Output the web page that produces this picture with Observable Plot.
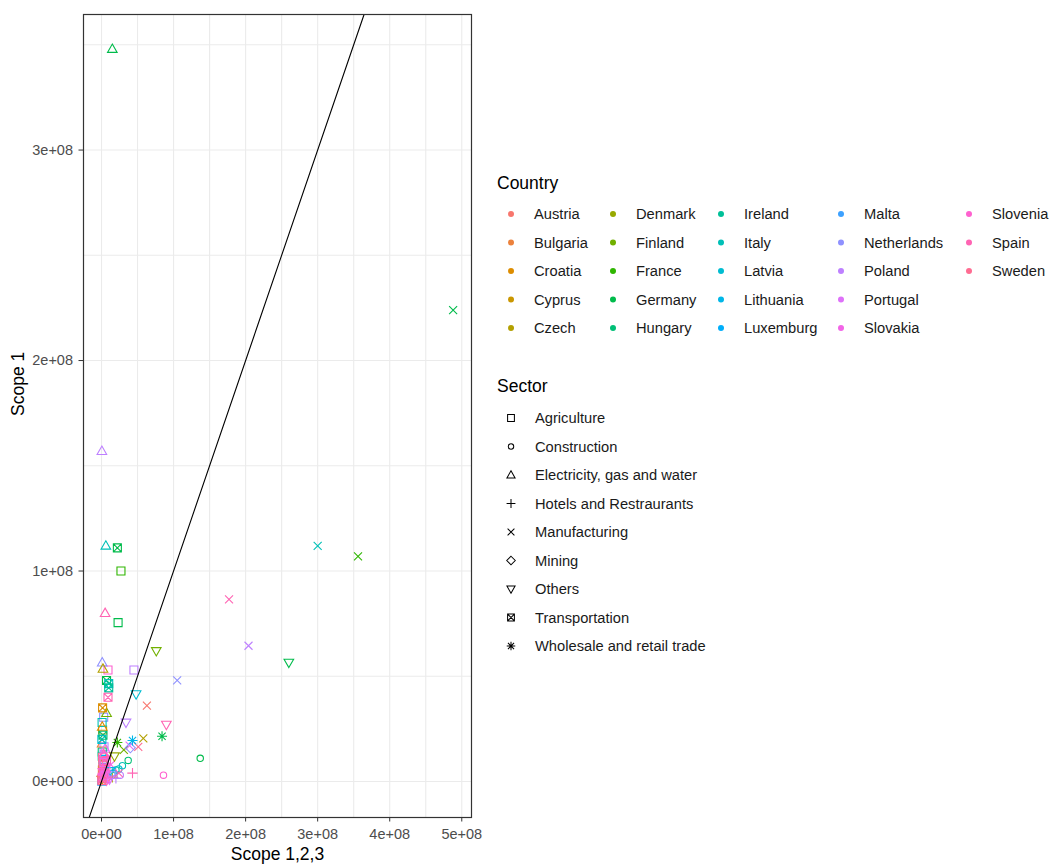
<!DOCTYPE html>
<html>
<head>
<meta charset="utf-8">
<script src="https://cdn.jsdelivr.net/npm/d3@7"></script>
<script src="https://cdn.jsdelivr.net/npm/@observablehq/plot@0.6"></script>
<style>
  body { margin: 0; background: #fff; }
  #wrap { position: relative; width: 1049px; height: 865px; font-family: "Liberation Sans", Arial, sans-serif; }
  #chart { position: absolute; left: 0; top: 0; }
  #legend { position: absolute; left: 0; top: 0; }
</style>
</head>
<body>
<div id="wrap">
  <div id="chart"></div>
  <svg id="legend" width="1049" height="865"></svg>
</div>
<script>
// ---------- data ----------
const countries = ["Austria","Bulgaria","Croatia","Cyprus","Czech","Denmark","Finland","France","Germany","Hungary","Ireland","Italy","Latvia","Lithuania","Luxemburg","Malta","Netherlands","Poland","Portugal","Slovakia","Slovenia","Spain","Sweden"];
const sectors = ["Agriculture","Construction","Electricity, gas and water","Hotels and Restraurants","Manufacturing","Mining","Others","Transportation","Wholesale and retail trade"];

const ptCountry = ["Germany","Germany","Poland","Italy","France","Italy","Germany","France","Spain","Germany",
  "Finland","Spain","Poland","Germany","Netherlands","Poland","Latvia","Austria","Poland","Spain",
  "Germany","Czech","Lithuania","Sweden","Portugal","Germany","Slovenia","Spain","Hungary","Finland",
  "France","Netherlands","Italy","Poland","Spain","Netherlands","Czech","Slovenia","Germany","Italy",
  "Ireland","Spain","Finland","Netherlands","Croatia","Cyprus","Latvia","Poland","Hungary","Ireland",
  "Luxemburg","Slovenia","Spain","Slovakia","Sweden","Spain","Slovenia","Slovakia","Sweden","Spain",
  "Slovenia","Portugal","Malta","Cyprus","Bulgaria","Denmark","Austria","Lithuania","Luxemburg","Netherlands",
  "Ireland","Latvia","Slovakia","Spain","Portugal","Czech","Poland","Slovenia","Sweden","Spain",
  "Italy","Hungary","Croatia","Austria","Denmark","Bulgaria","Portugal","Slovenia","Spain","Slovakia",
  "Sweden","Spain","Slovenia","Portugal"];
const ptSector = ["Electricity, gas and water","Manufacturing","Electricity, gas and water","Manufacturing","Manufacturing","Electricity, gas and water","Transportation","Agriculture","Electricity, gas and water","Agriculture",
  "Others","Manufacturing","Manufacturing","Others","Manufacturing","Agriculture","Others","Manufacturing","Others","Others",
  "Wholesale and retail trade","Manufacturing","Wholesale and retail trade","Manufacturing","Manufacturing","Construction","Construction","Hotels and Restraurants","Construction","Manufacturing",
  "Wholesale and retail trade","Mining","Construction","Construction","Manufacturing","Electricity, gas and water","Electricity, gas and water","Agriculture","Transportation","Transportation",
  "Transportation","Transportation","Electricity, gas and water","Agriculture","Electricity, gas and water","Agriculture","Transportation","Agriculture","Agriculture","Agriculture",
  "Agriculture","Agriculture","Agriculture","Agriculture","Agriculture","Transportation","Transportation","Electricity, gas and water","Transportation","Others",
  "Others","Agriculture","Agriculture","Others","Agriculture","Agriculture","Construction","Others","Construction","Others",
  "Construction","Construction","Manufacturing","Agriculture","Others","Hotels and Restraurants","Hotels and Restraurants","Mining","Agriculture","Electricity, gas and water",
  "Agriculture","Transportation","Transportation","Agriculture","Others","Electricity, gas and water","Electricity, gas and water","Transportation","Agriculture","Transportation",
  "Agriculture","Electricity, gas and water","Others","Agriculture"];
// Scope 1,2,3 (x) and Scope 1 (y)
const ptScope123 = [15e6,488e6,0.5e6,300e6,356e6,6e6,22e6,27e6,5e6,23e6,
  76e6,177e6,204e6,260e6,105e6,45e6,48e6,63e6,34e6,90e6,
  84e6,58e6,43e6,51e6,39e6,137e6,86e6,43e6,37e6,31e6,
  22e6,40e6,29e6,26e6,24e6,1e6,2e6,9e6,7e6,10e6,
  10e6,9e6,7e6,3e6,1e6,1.5e6,0.5e6,3.5e6,1e6,1e6,
  2e6,2e6,3e6,1.5e6,4e6,2.5e6,1e6,3e6,0.5e6,5e6,
  2e6,6e6,0.2e6,0.5e6,1.2e6,2.5e6,8e6,12e6,16e6,14e6,
  20e6,24e6,13e6,7e6,11e6,15e6,20e6,4e6,1.5e6,3e6,
  0.8e6,2e6,1.5e6,4e6,18e6,0.8e6,5e6,6e6,1e6,4.5e6,
  2.5e6,0.5e6,7e6,3.5e6];
const ptScope1 = [348e6,224e6,157e6,112e6,107e6,112e6,111e6,100e6,80e6,75.5e6,
  62e6,86.5e6,64.5e6,56.5e6,48e6,53e6,41.5e6,36e6,28e6,27e6,
  21.5e6,20.5e6,19.5e6,16.5e6,17e6,11e6,3e6,4e6,10e6,15e6,
  18.5e6,16e6,7.5e6,3e6,4e6,56.5e6,53.5e6,53e6,48e6,46.5e6,
  44.5e6,40e6,32.5e6,30.5e6,26e6,24.5e6,20e6,16.5e6,14e6,12e6,
  10.5e6,9e6,7.5e6,6e6,5e6,3.5e6,2e6,1e6,0.5e6,2.5e6,
  4.5e6,1.5e6,0.2e6,0.8e6,5.5e6,8e6,2e6,5e6,4e6,3e6,
  5.5e6,6e6,8e6,10e6,1e6,2e6,1.5e6,12e6,11.5e6,13e6,
  28e6,22e6,35e6,9.5e6,12e6,18e6,15.5e6,6.5e6,1.5e6,3e6,
  8.5e6,4e6,0.5e6,9e6];

// reference line y = x
const ablineSlope = 1, ablineIntercept = 0;
const xTicks = [0, 1e8, 2e8, 3e8, 4e8, 5e8];
const yTicks = [0, 1e8, 2e8, 3e8];
const xDomain = [-0.25e8, 5.135e8];
const yDomain = [-0.171e8, 3.644e8];

// ---------- helpers ----------
const points = ptCountry.map((c, i) => ({country: c, sector: ptSector[i], x: ptScope123[i], y: ptScope1[i]}));

function hclHex(h, c, l) { // R's polarLUV -> sRGB
  const hr = h * Math.PI / 180;
  const U = c * Math.cos(hr), V = c * Math.sin(hr);
  const Y = l > 8 ? 100 * Math.pow((l + 16) / 116, 3) : 100 * l / 903.3;
  const un = 0.1978398, vn = 0.4683363;
  const u = U / (13 * l) + un, v = V / (13 * l) + vn;
  const X = 9 * Y * u / (4 * v);
  const Z = -X / 3 - 5 * Y + 3 * Y / v;
  const x = X / 100, y = Y / 100, z = Z / 100;
  const lin = [
    3.240479 * x - 1.537150 * y - 0.498535 * z,
    -0.969256 * x + 1.875992 * y + 0.041556 * z,
    0.055648 * x - 0.204043 * y + 1.057311 * z];
  const g = t => { t = Math.max(0, Math.min(1, t)); return t <= 0.0031308 ? 12.92 * t : 1.055 * Math.pow(t, 1 / 2.4) - 0.055; };
  return "#" + lin.map(t => Math.round(g(t) * 255).toString(16).padStart(2, "0")).join("");
}
const n = countries.length;
const palette = countries.map((_, i) => hclHex(15 + i * 360 / n, 100, 65));

function sci(v) {
  if (v === 0) return "0e+00";
  const e = Math.floor(Math.log10(Math.abs(v)));
  const m = Math.round(v / Math.pow(10, e));
  return `${m}e${e < 0 ? "-" : "+"}${String(Math.abs(e)).padStart(2, "0")}`;
}

// ggplot-like shapes 0..8
const S = 4;
const shapes = {
  "Agriculture": {draw(c) { c.moveTo(-S, -S); c.lineTo(S, -S); c.lineTo(S, S); c.lineTo(-S, S); c.closePath(); }},
  "Construction": {draw(c) { const r = 3.2; c.moveTo(r, 0); c.arc(0, 0, r, 0, 2 * Math.PI); }},
  "Electricity, gas and water": {draw(c) { c.moveTo(0, -5); c.lineTo(4.8, 3.4); c.lineTo(-4.8, 3.4); c.closePath(); }},
  "Hotels and Restraurants": {draw(c) { const r = 5.2; c.moveTo(-r, 0); c.lineTo(r, 0); c.moveTo(0, -r); c.lineTo(0, r); }},
  "Manufacturing": {draw(c) { const r = 4; c.moveTo(-r, -r); c.lineTo(r, r); c.moveTo(-r, r); c.lineTo(r, -r); }},
  "Mining": {draw(c) { const r = 5; c.moveTo(0, -r); c.lineTo(r, 0); c.lineTo(0, r); c.lineTo(-r, 0); c.closePath(); }},
  "Others": {draw(c) { c.moveTo(0, 5); c.lineTo(4.8, -3.4); c.lineTo(-4.8, -3.4); c.closePath(); }},
  "Transportation": {draw(c) { c.moveTo(-S, -S); c.lineTo(S, -S); c.lineTo(S, S); c.lineTo(-S, S); c.closePath(); c.moveTo(-S, -S); c.lineTo(S, S); c.moveTo(-S, S); c.lineTo(S, -S); }},
  "Wholesale and retail trade": {draw(c) { const r = 5, q = 3.6; c.moveTo(-r, 0); c.lineTo(r, 0); c.moveTo(0, -r); c.lineTo(0, r); c.moveTo(-q, -q); c.lineTo(q, q); c.moveTo(-q, q); c.lineTo(q, -q); }}
};

// abline endpoints from the visible domain
const lo = Math.max(xDomain[0], (yDomain[0] - ablineIntercept) / ablineSlope);
const hi = Math.min(xDomain[1], (yDomain[1] - ablineIntercept) / ablineSlope);
const abline = [lo, hi].map(x => ({x, y: ablineSlope * x + ablineIntercept}));

const gridX = d3.range(0, 5.01e8, 0.5e8);
const gridY = d3.range(0, 3.51e8, 0.5e8);

const chart = Plot.plot({
  width: 492, height: 865,
  marginLeft: 83, marginRight: 21, marginTop: 14, marginBottom: 48,
  style: {fontFamily: "'Liberation Sans', Arial, sans-serif", fontSize: "14.5px", background: "transparent", overflow: "visible"},
  x: {domain: xDomain},
  y: {domain: yDomain},
  color: {type: "ordinal", domain: countries, range: palette},
  marks: [
    Plot.gridX({ticks: gridX, stroke: "#EBEBEB", strokeOpacity: 1, strokeWidth: 1.1}),
    Plot.gridY({ticks: gridY, stroke: "#EBEBEB", strokeOpacity: 1, strokeWidth: 1.1}),
    ...sectors.map(s => Plot.dot(points.filter(d => d.sector === s), {
      x: "x", y: "y", stroke: "country", fill: "none", symbol: shapes[s], r: 4, strokeWidth: 1.1
    })),
    Plot.line(abline, {x: "x", y: "y", stroke: "#000", strokeWidth: 1.1, clip: true}),
    Plot.frame({stroke: "#333333", strokeWidth: 1.2}),
    Plot.axisX({ticks: xTicks, tickFormat: sci, tickSize: 4.5, tickPadding: 7, color: "#4D4D4D", stroke: "#333333", label: null}),
    Plot.axisY({ticks: yTicks, tickFormat: sci, tickSize: 4.5, tickPadding: 6, color: "#4D4D4D", stroke: "#333333", label: null}),
    Plot.text(["Scope 1,2,3"], {frameAnchor: "bottom", dy: 42, fontSize: 17.5, fill: "#000"}),
    Plot.text(["Scope 1"], {frameAnchor: "left", dx: -65, rotate: -90, fontSize: 17.5, fill: "#000"})
  ]
});
document.getElementById("chart").appendChild(chart);

// ---------- legend ----------
const lg = d3.select("#legend").style("font-family", "'Liberation Sans', Arial, sans-serif");
const titleSize = 17.5, itemSize = 14.7;
lg.append("text").attr("x", 497).attr("y", 183).attr("dy", "0.35em").attr("font-size", titleSize).attr("fill", "#000").text("Country");
const colDot = [511, 613, 721, 841, 969];
countries.forEach((c, i) => {
  const col = Math.floor(i / 5), row = i % 5;
  const y = 214 + row * 28.5;
  lg.append("circle").attr("cx", colDot[col]).attr("cy", y).attr("r", 3).attr("fill", palette[i]);
  lg.append("text").attr("x", colDot[col] + 23).attr("y", y).attr("dy", "0.35em").attr("font-size", itemSize).attr("fill", "#1a1a1a").text(c);
});
lg.append("text").attr("x", 497).attr("y", 386).attr("dy", "0.35em").attr("font-size", titleSize).attr("fill", "#000").text("Sector");
sectors.forEach((s, i) => {
  const y = 418 + i * 28.5;
  lg.append("path").attr("d", d3.symbol(shapes[s], 50)()).attr("transform", `translate(511,${y}) scale(0.85)`)
    .attr("fill", "none").attr("stroke", "#000").attr("stroke-width", 1.2);
  lg.append("text").attr("x", 535).attr("y", y).attr("dy", "0.35em").attr("font-size", itemSize).attr("fill", "#1a1a1a").text(s);
});
</script>
</body>
</html>
